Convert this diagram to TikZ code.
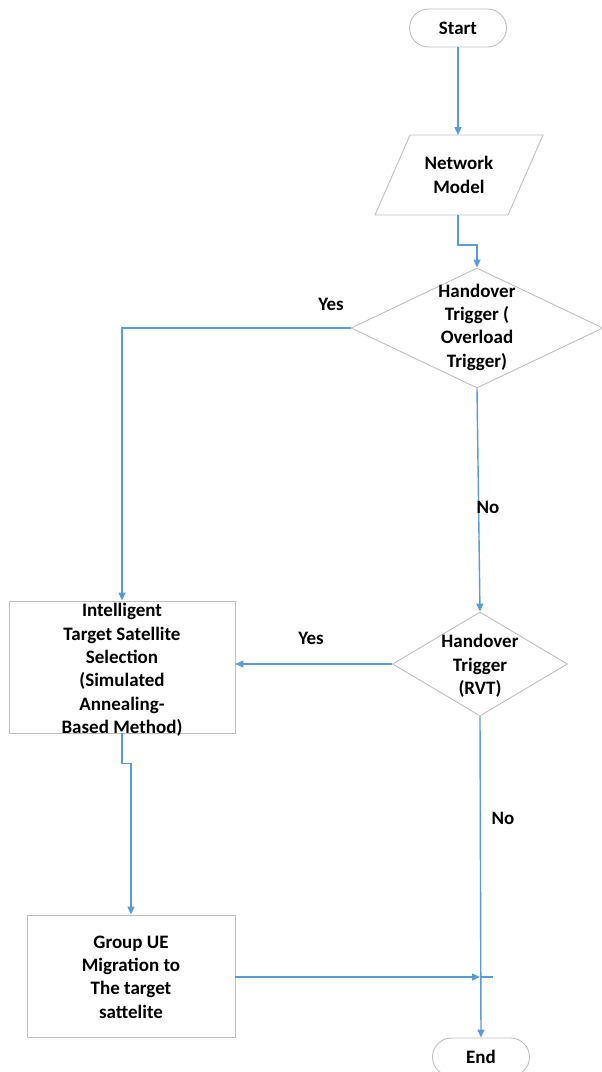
\documentclass[tikz,border=0pt]{standalone}
\usepackage{fontspec}
\setmainfont{Carlito}
\usetikzlibrary{arrows.meta,shapes.geometric}
\definecolor{lineblue}{RGB}{91,155,213}
\definecolor{shapegray}{RGB}{191,191,191}
\begin{document}
\begin{tikzpicture}[x=1pt,y=-1pt,
 conn/.style={draw=lineblue, line width=1.4pt, -{Triangle[length=8pt,width=7pt]}},
 plain/.style={draw=lineblue, line width=1.4pt},
 shp/.style={draw=shapegray, line width=0.9pt, fill=white},
 txt/.style={font=\fontsize{19}{23.3}\selectfont\bfseries, align=center, inner sep=0pt},
 lbl/.style={font=\fontsize{19}{23.3}\selectfont\bfseries, inner sep=0pt}]
\useasboundingbox (0,0) rectangle (602,1072);

% shapes
\node[shp, txt, rounded corners=19pt, minimum width=97pt, minimum height=38pt] (start) at (458,28) {Start};
\draw[shp] (375,215) -- (410,135) -- (543,135) -- (508,215) -- cycle;
\node[txt] (nm) at (459,175) {Network\\Model};
\coordinate (nmtop) at (458,135);
\coordinate (nmbot) at (458,215);
\node[shp, diamond, minimum width=252pt, minimum height=120pt, inner sep=0pt] (d1) at (477,328) {};
\node[txt] (d1t) at (477,327) {Handover\\Trigger (\\Overload\\Trigger)};
\node[shp, minimum width=226pt, minimum height=132pt, inner sep=0pt] (ib) at (122,667) {};
\node[txt] (ibt) at (122,670) {Intelligent\\Target Satellite\\Selection\\(Simulated\\Annealing-\\Based Method)};
\node[shp, diamond, minimum width=175pt, minimum height=104pt, inner sep=0pt] (d2) at (480,664) {};
\node[txt] (d2t) at (480,666) {Handover\\Trigger\\(RVT)};
\node[shp, minimum width=208pt, minimum height=122pt, inner sep=0pt] (gb) at (131,976) {};
\node[txt] (gbt) at (131,977) {Group UE\\Migration to\\The target\\sattelite};
\node[shp, txt, rounded corners=19pt, minimum width=97pt, minimum height=38pt] (end) at (481,1057) {End};
\coordinate (merge) at (480,977);

% connectors
\draw[conn] (start.south) -- (nmtop);
\draw[conn] (nmbot) -- ++(0,30) -| (d1.north);
\draw[conn] (d1.west) -| (ib.north);
\draw[conn] (d1.south) -- (d2.north);
\draw[conn] (d2.west) -- (d2.west -| ib.east);
\draw[conn] (ib.south) -- ++(0,30) -| (gb.north);
\draw[conn] (d2.south) -- (end.north);
\draw[conn] (gb.east |- merge) -- (merge);
\draw[plain] (merge) -- ++(13,0);

% labels
\node[lbl] (yes1) at (331,304) {Yes};
\node[lbl] (no1) at (488,507) {No};
\node[lbl] (yes2) at (311,638) {Yes};
\node[lbl] (no2) at (503,818) {No};
\end{tikzpicture}
\end{document}
